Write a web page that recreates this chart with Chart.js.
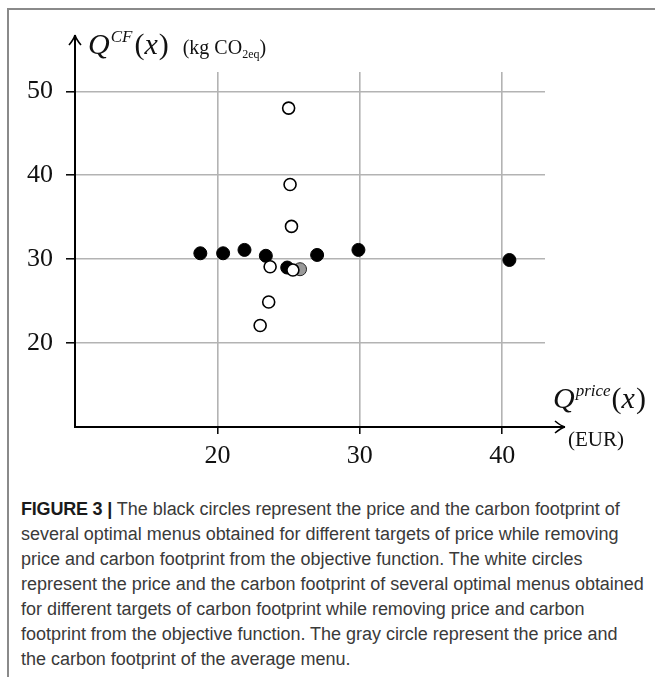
<!DOCTYPE html>
<html>
<head>
<meta charset="utf-8">
<script src="https://cdn.jsdelivr.net/npm/chart.js@4/dist/chart.umd.min.js"></script>
<style>
  html, body { margin: 0; padding: 0; background: #fff; }
  body { width: 655px; height: 677px; position: relative; overflow: hidden; }
  #frame { position: absolute; left: 7px; top: 8px; width: 650px; height: 672px;
           border-top: 2px solid #8a8a8a; border-left: 2px solid #8a8a8a; box-sizing: border-box; }
  #chart { position: absolute; left: 0; top: 0; }
  #cap { position: absolute; left: 21px; top: 497px; font-family: "Liberation Sans", Arial, sans-serif;
         font-size: 18px; line-height: 25px; color: #3a3a3a; white-space: nowrap; letter-spacing: -0.02px; }
  #cap b { color: #1a1a1a; letter-spacing: -0.2px; }
</style>
</head>
<body>
<div id="frame"></div>
<canvas id="chart" width="655" height="480"></canvas>
<div id="cap"><b>FIGURE 3 |</b> The black circles represent the price and the carbon footprint of<br>several optimal menus obtained for different targets of price while removing<br>price and carbon footprint from the objective function. The white circles<br>represent the price and the carbon footprint of several optimal menus obtained<br>for different targets of carbon footprint while removing price and carbon<br>footprint from the objective function. The gray circle represent the price and<br>the carbon footprint of the average menu.</div>
<script>
// ---- data ----
const blackX = [18.8, 20.4, 21.9, 23.4, 24.9, 27.0, 29.9, 40.5];
const blackY = [30.7, 30.7, 31.1, 30.4, 29.0, 30.5, 31.1, 29.9];
const whiteX = [25.0, 25.1, 25.2, 23.7, 25.3, 23.6, 23.0];
const whiteY = [48.0, 38.9, 33.9, 29.1, 28.7, 24.9, 22.1];
const grayX = [25.8];
const grayY = [28.8];
const xTicks = [20, 30, 40];
const yTicks = [20, 30, 40, 50];

const pts = (xs, ys) => xs.map((x, i) => ({ x: x, y: ys[i] }));
const SERIF = '"Liberation Serif", "DejaVu Serif", serif';

function drawRuns(ctx, x, y, runs) {
  for (const r of runs) {
    ctx.font = r.f;
    ctx.fillText(r.t, x, y + (r.dy || 0));
    x += ctx.measureText(r.t).width + (r.gap || 0);
  }
}

const axisDeco = {
  id: 'axisDeco',
  afterDraw(chart) {
    const { ctx, chartArea: { left, right, top, bottom } } = chart;
    ctx.save();
    ctx.strokeStyle = '#000';
    ctx.lineWidth = 2;
    const tipY = top - 37;
    const tipX = right + 20;
    ctx.beginPath();
    ctx.moveTo(left, top); ctx.lineTo(left, tipY);
    ctx.moveTo(right, bottom); ctx.lineTo(tipX, bottom);
    ctx.stroke();
    ctx.lineWidth = 1.6;
    ctx.beginPath();
    ctx.moveTo(left - 6, tipY + 10); ctx.quadraticCurveTo(left - 1, tipY + 4, left, tipY);
    ctx.moveTo(left + 6, tipY + 10); ctx.quadraticCurveTo(left + 1, tipY + 4, left, tipY);
    ctx.moveTo(tipX - 10, bottom - 6); ctx.quadraticCurveTo(tipX - 4, bottom - 1, tipX, bottom);
    ctx.moveTo(tipX - 10, bottom + 6); ctx.quadraticCurveTo(tipX - 4, bottom + 1, tipX, bottom);
    ctx.stroke();

    ctx.fillStyle = '#111';
    ctx.textBaseline = 'alphabetic';
    drawRuns(ctx, left + 13, top - 18, [
      { t: 'Q', f: 'italic 30px ' + SERIF, gap: 1 },
      { t: 'CF', f: 'italic 17px ' + SERIF, dy: -12, gap: 2 },
      { t: '(', f: '30px ' + SERIF },
      { t: 'x', f: 'italic 30px ' + SERIF, gap: 1 },
      { t: ')', f: '30px ' + SERIF, gap: 14 },
      { t: '(kg CO', f: '20px ' + SERIF },
      { t: '2eq', f: '12px ' + SERIF, dy: 4 },
      { t: ')', f: '20px ' + SERIF }
    ]);
    drawRuns(ctx, right + 8, bottom - 19, [
      { t: 'Q', f: 'italic 30px ' + SERIF, gap: 1 },
      { t: 'price', f: 'italic 17px ' + SERIF, dy: -12, gap: 1 },
      { t: '(', f: '30px ' + SERIF },
      { t: 'x', f: 'italic 30px ' + SERIF, gap: 1 },
      { t: ')', f: '30px ' + SERIF }
    ]);
    drawRuns(ctx, right + 23, bottom + 19, [
      { t: '(EUR)', f: '21px ' + SERIF }
    ]);
    ctx.restore();
  }
};

new Chart(document.getElementById('chart'), {
  type: 'scatter',
  data: {
    datasets: [
      { label: 'carbon targets', data: pts(whiteX, whiteY), backgroundColor: '#fff', borderColor: '#000',
        borderWidth: 1.6, pointRadius: 6, pointHoverRadius: 6 },
      { label: 'average menu', data: pts(grayX, grayY), backgroundColor: '#9a9a9a', borderColor: '#222',
        borderWidth: 1, pointRadius: 6.5, pointHoverRadius: 6.5 },
      { label: 'price targets', data: pts(blackX, blackY), backgroundColor: '#000', borderColor: '#000',
        borderWidth: 1, pointRadius: 6.5, pointHoverRadius: 6.5 }
    ]
  },
  options: {
    responsive: false,
    animation: false,
    devicePixelRatio: 1,
    layout: { padding: { left: 0, top: 72, right: 110, bottom: 0 } },
    plugins: { legend: { display: false }, tooltip: { enabled: false } },
    scales: {
      x: {
        type: 'linear', min: 10, max: 43,
        afterBuildTicks: s => { s.ticks = xTicks.map(v => ({ value: v })); },
        afterFit: s => { s.height = 53; },
        grid: { color: '#b3b3b3', lineWidth: 1.6, tickColor: '#000', tickLength: 7, tickWidth: 1.5 },
        border: { color: '#000', width: 2 },
        ticks: { color: '#111', font: { family: SERIF, size: 26 }, padding: 7, maxRotation: 0 }
      },
      y: {
        type: 'linear', min: 10, max: 52.3,
        afterBuildTicks: s => { s.ticks = yTicks.map(v => ({ value: v })); },
        afterFit: s => { s.width = 75; },
        grid: { color: '#b3b3b3', lineWidth: 1.6, tickColor: '#000', tickLength: 9, tickWidth: 1.5 },
        border: { color: '#000', width: 2 },
        ticks: { color: '#111', font: { family: SERIF, size: 26 }, padding: 13 }
      }
    }
  },
  plugins: [axisDeco]
});
</script>
</body>
</html>
